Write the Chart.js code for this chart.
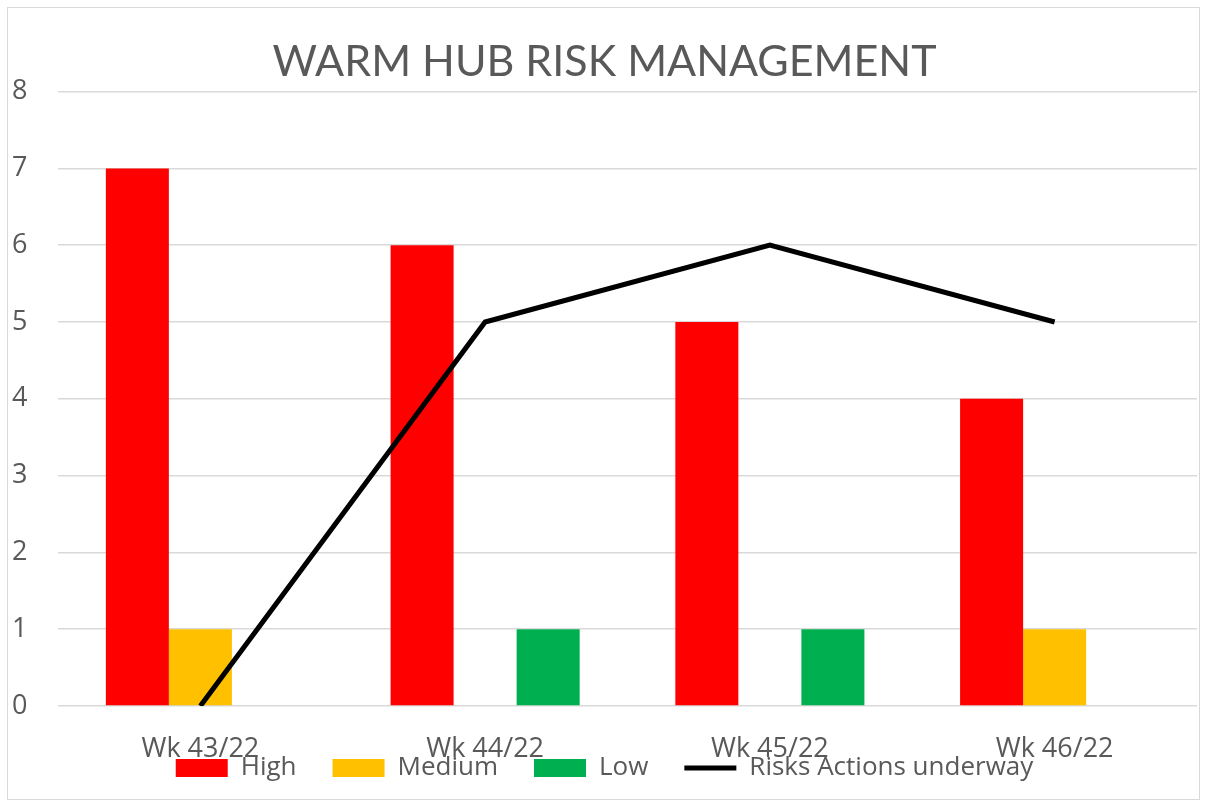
<!DOCTYPE html>
<html>
<head>
<meta charset="utf-8">
<script src="https://cdn.jsdelivr.net/npm/chart.js"></script>
<style>
  body { margin: 0; background: #fff; }
  #frame {
    position: absolute; left: 7px; top: 7px;
    width: 1191px; height: 791px;
    border: 1px solid #d9d9d9;
  }
</style>
</head>
<body>
<div id="frame"><canvas id="riskChart" width="1191" height="791"></canvas></div>
<script>
// chart data
const weeks = ['Wk 43/22', 'Wk 44/22', 'Wk 45/22', 'Wk 46/22'];
const highRisks = [7, 6, 5, 4];
const mediumRisks = [1, 0, 0, 1];
const lowRisks = [0, 1, 1, 0];
const actionsUnderway = [0, 5, 6, 5];
const yTicks = [0, 1, 2, 3, 4, 5, 6, 7, 8];

const grey = '#595959';
const textFont = '"Open Sans", sans-serif';
const titleFont = 'Lato, "Open Sans", sans-serif';

document.addEventListener('DOMContentLoaded', () => {
  const ctx = document.getElementById('riskChart');
  new Chart(ctx, {
    data: {
      labels: weeks,
      datasets: [
        {
          type: 'line',
          label: 'Risks Actions underway',
          data: actionsUnderway,
          borderColor: '#000000',
          backgroundColor: '#000000',
          borderWidth: 5,
          pointRadius: 0,
          pointStyle: 'line',
          tension: 0,
          order: 0
        },
        { type: 'bar', label: 'High', data: highRisks, backgroundColor: '#ff0000', pointStyle: 'rect', order: 1 },
        { type: 'bar', label: 'Medium', data: mediumRisks, backgroundColor: '#ffc000', pointStyle: 'rect', order: 1 },
        { type: 'bar', label: 'Low', data: lowRisks, backgroundColor: '#00b050', pointStyle: 'rect', order: 1 }
      ]
    },
    options: {
      responsive: false,
      animation: false,
      layout: { padding: { left: 4, right: 2, top: 0, bottom: 8 } },
      datasets: {
        bar: { categoryPercentage: 0.664, barPercentage: 1 }
      },
      scales: {
        x: {
          grid: { display: false },
          border: { display: false },
          ticks: { color: grey, font: { family: textFont, size: 27 }, padding: 19 },
          afterFit: (scale) => {
            scale.height = 13;
            // let the week labels run under the legend, like the original
            scale._computeLabelArea = () => undefined;
          }
        },
        y: {
          min: 0,
          max: 8,
          afterBuildTicks: (scale) => { scale.ticks = yTicks.map(v => ({ value: v })); },
          grid: { color: '#d9d9d9', lineWidth: 1.5, drawTicks: false },
          border: { display: false },
          ticks: { color: grey, font: { family: textFont, size: 27 }, padding: 30, crossAlign: 'far' },
          afterFit: (scale) => { scale.width = 46; }
        }
      },
      plugins: {
        title: {
          display: true,
          text: 'WARM HUB RISK MANAGEMENT',
          color: grey,
          font: { family: titleFont, size: 43, weight: 'normal' },
          padding: { top: 28, bottom: 4 }
        },
        legend: {
          position: 'bottom',
          labels: {
            color: grey,
            font: { family: textFont, size: 26 },
            usePointStyle: true,
            pointStyleWidth: 52,
            boxHeight: 18,
            padding: 36,
            sort: (a, b) => {
              const rank = { 'High': 0, 'Medium': 1, 'Low': 2, 'Risks Actions underway': 3 };
              return rank[a.text] - rank[b.text];
            }
          }
        },
        tooltip: { enabled: false }
      }
    }
  });
});
</script>
</body>
</html>
